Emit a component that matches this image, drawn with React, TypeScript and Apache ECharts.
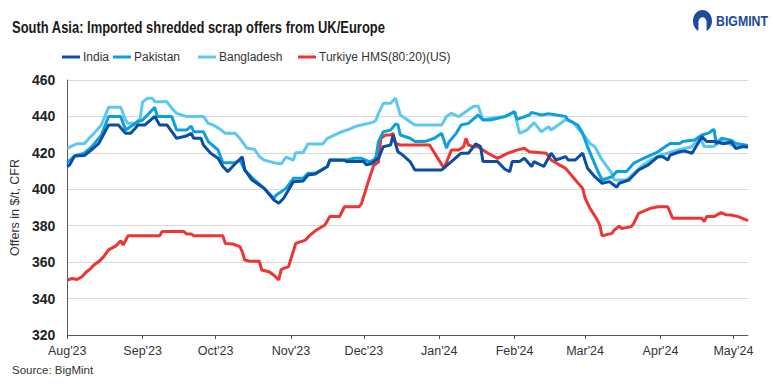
import React, { useEffect, useRef } from "react";
import * as echarts from "echarts";

type Pt = [string, number];

const legendNames = ["India", "Pakistan", "Bangladesh", "Turkiye HMS(80:20)(US)"];
const seriesColors = ["#0b4ea2", "#0ca0dc", "#5bc8f3", "#ee3532"];
const yTicks = [320, 340, 360, 380, 400, 420, 440, 460];
const monthNames = ["Jan", "Feb", "Mar", "Apr", "May", "Jun", "Jul", "Aug", "Sep", "Oct", "Nov", "Dec"];
const startDate = "2023-08-01";
const endDate = "2024-05-07";

const india: Pt[] = [
  ["2023-08-01", 412.5], ["2023-08-02", 413.4], ["2023-08-04", 418.3], ["2023-08-08", 418.5], ["2023-08-10", 420.6],
  ["2023-08-14", 425.2], ["2023-08-18", 435.3], ["2023-08-22", 435.3], ["2023-08-25", 430.7], ["2023-08-27", 430.7],
  ["2023-08-29", 433.5], ["2023-08-30", 435.3], ["2023-09-02", 435.3], ["2023-09-06", 440], ["2023-09-08", 435.3],
  ["2023-09-11", 435.3], ["2023-09-15", 428], ["2023-09-19", 429.3], ["2023-09-21", 430.7], ["2023-09-22", 428],
  ["2023-09-25", 428], ["2023-09-26", 424.3], ["2023-09-29", 419.8], ["2023-10-02", 417], ["2023-10-04", 412.5],
  ["2023-10-06", 409.7], ["2023-10-08", 412.5], ["2023-10-12", 417.9], ["2023-10-13", 410.6], ["2023-10-16", 405.1],
  ["2023-10-21", 400.5], ["2023-10-25", 394.1], ["2023-10-27", 392.3], ["2023-10-29", 395.1], ["2023-11-02", 404.2],
  ["2023-11-06", 404.5], ["2023-11-08", 407.8], ["2023-11-11", 408.4], ["2023-11-16", 412.5], ["2023-11-17", 416.1],
  ["2023-11-23", 416], ["2023-11-24", 415.2], ["2023-12-01", 415.2], ["2023-12-02", 413.4], ["2023-12-04", 414],
  ["2023-12-07", 417], ["2023-12-09", 423.4], ["2023-12-12", 424.3], ["2023-12-13", 429.8], ["2023-12-15", 420.6],
  ["2023-12-17", 418.8], ["2023-12-20", 415.2], ["2023-12-22", 410.6], ["2024-01-02", 410.6], ["2024-01-06", 415.2],
  ["2024-01-10", 419.8], ["2024-01-13", 419.8], ["2024-01-16", 424.9], ["2024-01-18", 423.4], ["2024-01-19", 415.2],
  ["2024-01-25", 415.2], ["2024-01-28", 411], ["2024-01-30", 409.7], ["2024-01-31", 415.2], ["2024-02-03", 415.2],
  ["2024-02-05", 417], ["2024-02-08", 412.5], ["2024-02-09", 415.2], ["2024-02-13", 412.5], ["2024-02-16", 419.8],
  ["2024-02-18", 416.1], ["2024-02-22", 417.9], ["2024-02-23", 416.1], ["2024-02-26", 416.1], ["2024-02-29", 419.8],
  ["2024-03-02", 411.5], ["2024-03-05", 406.9], ["2024-03-08", 403.3], ["2024-03-11", 404.2], ["2024-03-14", 401.1],
  ["2024-03-15", 403.3], ["2024-03-19", 405.1], ["2024-03-23", 410.6], ["2024-03-27", 413.4], ["2024-03-31", 417.9],
  ["2024-04-02", 417.9], ["2024-04-04", 416.1], ["2024-04-05", 418.8], ["2024-04-09", 420.6], ["2024-04-11", 421],
  ["2024-04-14", 419.8], ["2024-04-16", 424.3], ["2024-04-18", 428.9], ["2024-04-20", 426.2], ["2024-04-23", 426.2],
  ["2024-04-27", 425], ["2024-04-30", 426], ["2024-05-02", 422.4], ["2024-05-05", 423.5], ["2024-05-07", 423],
];

const pakistan: Pt[] = [
  ["2023-08-01", 414.6], ["2023-08-04", 418.3], ["2023-08-08", 419.8], ["2023-08-11", 423.3], ["2023-08-15", 429.7],
  ["2023-08-18", 440], ["2023-08-23", 440], ["2023-08-25", 432.5], ["2023-08-30", 437.1], ["2023-09-01", 438],
  ["2023-09-06", 445], ["2023-09-07", 440], ["2023-09-13", 440], ["2023-09-14", 436.2], ["2023-09-15", 432.5],
  ["2023-09-19", 432.5], ["2023-09-21", 434.7], ["2023-09-22", 431.6], ["2023-09-26", 431.6], ["2023-09-28", 426.2],
  ["2023-10-02", 421.6], ["2023-10-04", 414.6], ["2023-10-09", 414.6], ["2023-10-11", 416.1], ["2023-10-13", 410.6],
  ["2023-10-17", 405.1], ["2023-10-21", 400.5], ["2023-10-25", 395.1], ["2023-10-26", 396.9], ["2023-10-30", 400.5],
  ["2023-11-02", 406], ["2023-11-06", 406], ["2023-11-08", 408.8], ["2023-11-11", 408.8], ["2023-11-16", 412.5],
  ["2023-11-17", 416.1], ["2023-11-24", 416.1], ["2023-11-27", 417], ["2023-11-30", 417], ["2023-12-03", 415.2],
  ["2023-12-05", 416], ["2023-12-06", 417.9], ["2023-12-07", 426.2], ["2023-12-09", 431.6], ["2023-12-12", 432.5],
  ["2023-12-14", 435.8], ["2023-12-15", 435.5], ["2023-12-16", 429.8], ["2023-12-20", 428], ["2023-12-22", 426.2],
  ["2023-12-26", 426.2], ["2023-12-30", 428], ["2024-01-02", 430.7], ["2024-01-04", 422.5], ["2024-01-05", 426],
  ["2024-01-08", 430.7], ["2024-01-10", 435.3], ["2024-01-13", 436.2], ["2024-01-17", 440.8], ["2024-01-19", 438],
  ["2024-01-22", 438], ["2024-01-28", 439.9], ["2024-02-01", 442.6], ["2024-02-02", 438.4], ["2024-02-07", 440.8],
  ["2024-02-08", 442.2], ["2024-02-12", 440.8], ["2024-02-15", 441.5], ["2024-02-22", 440], ["2024-02-23", 438],
  ["2024-02-27", 435.3], ["2024-02-29", 430.7], ["2024-03-02", 423.4], ["2024-03-06", 410.6], ["2024-03-08", 405.1],
  ["2024-03-12", 406.9], ["2024-03-14", 409.7], ["2024-03-18", 409.7], ["2024-03-21", 414.3], ["2024-03-25", 417],
  ["2024-03-31", 420.6], ["2024-04-02", 422.5], ["2024-04-05", 425.2], ["2024-04-09", 425.2], ["2024-04-10", 426.2],
  ["2024-04-15", 427.1], ["2024-04-18", 429.8], ["2024-04-21", 431], ["2024-04-23", 433], ["2024-04-24", 424.5],
  ["2024-04-26", 428], ["2024-04-30", 427], ["2024-05-02", 425.2], ["2024-05-07", 424],
];

const bangladesh: Pt[] = [
  ["2023-08-01", 422.4], ["2023-08-03", 423.8], ["2023-08-05", 425], ["2023-08-08", 425], ["2023-08-10", 428],
  ["2023-08-12", 430.7], ["2023-08-15", 435.3], ["2023-08-18", 445], ["2023-08-23", 445], ["2023-08-25", 438],
  ["2023-08-26", 436.2], ["2023-08-29", 436.2], ["2023-08-31", 439], ["2023-09-01", 448], ["2023-09-03", 450],
  ["2023-09-05", 450], ["2023-09-06", 448], ["2023-09-11", 448], ["2023-09-13", 444.4], ["2023-09-15", 441.7],
  ["2023-09-19", 440], ["2023-09-26", 440], ["2023-09-28", 436.2], ["2023-09-30", 435.3], ["2023-10-03", 432.9],
  ["2023-10-05", 430.7], ["2023-10-09", 430.7], ["2023-10-11", 428], ["2023-10-14", 422.5], ["2023-10-17", 422],
  ["2023-10-19", 418], ["2023-10-21", 416], ["2023-10-26", 414.3], ["2023-10-28", 414], ["2023-10-30", 417.6],
  ["2023-11-02", 416], ["2023-11-03", 420.1], ["2023-11-06", 420.1], ["2023-11-08", 424.9], ["2023-11-14", 424.9],
  ["2023-11-16", 428], ["2023-11-22", 431.6], ["2023-11-24", 432.5], ["2023-11-28", 434.7], ["2023-12-03", 436.2],
  ["2023-12-05", 437], ["2023-12-06", 438], ["2023-12-07", 441.7], ["2023-12-09", 447.2], ["2023-12-12", 447.2],
  ["2023-12-14", 450], ["2023-12-15", 445.4], ["2023-12-16", 440.8], ["2023-12-20", 437.1], ["2023-12-22", 435.3],
  ["2024-01-02", 435.3], ["2024-01-04", 439.9], ["2024-01-06", 441.7], ["2024-01-09", 439.9], ["2024-01-11", 441.7],
  ["2024-01-15", 445.4], ["2024-01-17", 445.8], ["2024-01-19", 438], ["2024-01-22", 439], ["2024-01-28", 439.9],
  ["2024-01-31", 441.7], ["2024-02-01", 442.6], ["2024-02-03", 430.7], ["2024-02-06", 432.5], ["2024-02-09", 436.6],
  ["2024-02-12", 431.6], ["2024-02-15", 434.4], ["2024-02-16", 432.5], ["2024-02-20", 436.2], ["2024-02-22", 438.4],
  ["2024-02-25", 437], ["2024-02-27", 433.5], ["2024-03-01", 428.9], ["2024-03-03", 425.2], ["2024-03-05", 423.4],
  ["2024-03-08", 416.1], ["2024-03-12", 408.8], ["2024-03-13", 405.1], ["2024-03-18", 405.1], ["2024-03-21", 408.8],
  ["2024-03-24", 412.5], ["2024-03-28", 416.1], ["2024-04-01", 418.8], ["2024-04-04", 419.8], ["2024-04-08", 421.6],
  ["2024-04-11", 422.5], ["2024-04-14", 423.4], ["2024-04-16", 427], ["2024-04-17", 429], ["2024-04-19", 423.5],
  ["2024-04-23", 423.5], ["2024-04-25", 427], ["2024-04-27", 426], ["2024-04-30", 424.5], ["2024-05-03", 423.5],
  ["2024-05-07", 424],
];

const turkiye: Pt[] = [
  ["2023-08-01", 350.2], ["2023-08-03", 351], ["2023-08-05", 350.5], ["2023-08-07", 352], ["2023-08-09", 354.8],
  ["2023-08-10", 355.7], ["2023-08-12", 358.4], ["2023-08-14", 360.3], ["2023-08-16", 363], ["2023-08-18", 366.7],
  ["2023-08-21", 368.9], ["2023-08-23", 371.8], ["2023-08-24", 369.4], ["2023-08-26", 374.5], ["2023-09-08", 374.5],
  ["2023-09-09", 376.8], ["2023-09-18", 376.8], ["2023-09-19", 375.5], ["2023-09-21", 375.5], ["2023-09-22", 374.5],
  ["2023-10-04", 374.5], ["2023-10-05", 370.3], ["2023-10-08", 370], ["2023-10-11", 368.5], ["2023-10-12", 365.7],
  ["2023-10-13", 361.2], ["2023-10-15", 360.5], ["2023-10-19", 360.5], ["2023-10-20", 355.7], ["2023-10-23", 354.7],
  ["2023-10-25", 352.8], ["2023-10-27", 350.2], ["2023-10-28", 356], ["2023-10-31", 357.5], ["2023-11-03", 370.3],
  ["2023-11-07", 372.1], ["2023-11-09", 375], ["2023-11-11", 377.2], ["2023-11-15", 380.4], ["2023-11-17", 385],
  ["2023-11-21", 385], ["2023-11-23", 390.4], ["2023-11-29", 390.4], ["2023-11-30", 392], ["2023-12-03", 405],
  ["2023-12-05", 413], ["2023-12-07", 415], ["2023-12-08", 428], ["2023-12-10", 429.8], ["2023-12-12", 429.8],
  ["2023-12-13", 430.7], ["2023-12-14", 425.2], ["2023-12-16", 424.3], ["2023-12-28", 424.3], ["2024-01-03", 411.5],
  ["2024-01-06", 421.6], ["2024-01-09", 421.6], ["2024-01-11", 423.3], ["2024-01-12", 428], ["2024-01-13", 424.3],
  ["2024-01-15", 423.4], ["2024-01-17", 423.4], ["2024-01-21", 419.8], ["2024-01-25", 417], ["2024-01-29", 419.7],
  ["2024-02-02", 421.5], ["2024-02-05", 422.5], ["2024-02-07", 420.6], ["2024-02-14", 419.8], ["2024-02-16", 416.1],
  ["2024-02-19", 413.7], ["2024-02-22", 411.5], ["2024-02-26", 405.1], ["2024-02-29", 400.5], ["2024-03-01", 395.1],
  ["2024-03-03", 389.6], ["2024-03-06", 383.2], ["2024-03-07", 380.4], ["2024-03-08", 374.4], ["2024-03-12", 375.8],
  ["2024-03-13", 377.6], ["2024-03-15", 379.8], ["2024-03-16", 378.5], ["2024-03-20", 379.5], ["2024-03-21", 381.3],
  ["2024-03-23", 386.8], ["2024-03-28", 389.6], ["2024-03-31", 390.4], ["2024-04-04", 390.4], ["2024-04-06", 384.1],
  ["2024-04-18", 384.1], ["2024-04-19", 382.2], ["2024-04-20", 385], ["2024-04-23", 385], ["2024-04-26", 387.2],
  ["2024-04-28", 386], ["2024-04-30", 385.9], ["2024-05-03", 385], ["2024-05-07", 382.8],
];

const allSeries = [india, pakistan, bangladesh, turkiye];

function buildDays(): string[] {
  const out: string[] = [];
  const s = new Date(startDate + "T00:00:00Z").getTime();
  const e = new Date(endDate + "T00:00:00Z").getTime();
  for (let t = s; t <= e; t += 86400000) {
    out.push(new Date(t).toISOString().slice(0, 10));
  }
  return out;
}

const FONT = "'Liberation Sans', Arial, sans-serif";

export default function App() {
  const ref = useRef<HTMLDivElement>(null);
  useEffect(() => {
    if (!ref.current) return;
    const chart = echarts.init(ref.current, undefined, { renderer: "svg" });
    const days = buildDays();
    const idx: Record<string, number> = {};
    days.forEach((d, i) => (idx[d] = i));
    const isMonthStart = (_i: number, v: string) => v.slice(8, 10) === "01";
    const logoD = "M10 0C4.5 0 0 4.5 0 10c0 4 2.3 7.4 5.7 9V11c0-2.4 1.9-4.3 4.3-4.3s4.3 1.9 4.3 4.3v8c3.4-1.6 5.7-5 5.7-9C20 4.5 15.5 0 10 0z";
    echarts.graphic.registerShape("bmlogo", echarts.graphic.extendPath(logoD as any, {}) as any);

    const legendLefts = [62, 113, 198, 298];

    chart.setOption({
      animation: false,
      backgroundColor: "#ffffff",
      textStyle: { fontFamily: FONT },
      grid: { left: 62, right: 25, top: 80, bottom: 49 },
      legend: legendNames.map((n, i) => ({
        data: [n],
        left: legendLefts[i],
        top: 51,
        icon: "rect",
        itemWidth: 18,
        itemHeight: 3,
        padding: 0,
        textStyle: { fontSize: 12, color: "#333333", fontFamily: FONT, padding: [0, 0, 0, -2] },
      })),
      xAxis: {
        type: "category",
        data: days,
        boundaryGap: false,
        axisLine: { lineStyle: { color: "#595959", width: 1 } },
        axisTick: { show: true, interval: isMonthStart, length: 4, lineStyle: { color: "#595959" } },
        axisLabel: {
          interval: isMonthStart,
          fontSize: 12.5,
          color: "#333333",
          margin: 9,
          formatter: (v: string) => monthNames[parseInt(v.slice(5, 7), 10) - 1] + "'" + v.slice(2, 4),
        },
        splitLine: { show: false },
      },
      yAxis: {
        type: "value",
        min: yTicks[0],
        max: yTicks[yTicks.length - 1],
        interval: 20,
        name: "Offers in $/t, CFR",
        nameLocation: "middle",
        nameGap: 41,
        nameRotate: 90,
        nameTextStyle: { fontSize: 12.5, color: "#333333" },
        axisLine: { show: true, lineStyle: { color: "#595959", width: 1 } },
        axisTick: { show: false },
        axisLabel: { fontSize: 14, fontWeight: "bold", color: "#222222", margin: 12 },
        splitLine: { lineStyle: { color: "#d9d9d9", width: 1 } },
      },
      series: allSeries.map((s, i) => ({
        name: legendNames[i],
        type: "line",
        data: s.map(([d, v]) => [idx[d], v]),
        showSymbol: false,
        symbol: "none",
        color: seriesColors[i],
        lineStyle: { width: 3, color: seriesColors[i] },
        z: i === 3 ? 1 : 4 - i,
      })),
      graphic: [
        {
          type: "group",
          x: 12,
          y: 19,
          scaleX: 0.785,
          children: [
            {
              type: "text",
              x: 0,
              y: 0,
              style: { text: "South Asia: Imported shredded scrap offers from UK/Europe", font: "bold 16.5px " + FONT, fill: "#1a1a1a" },
            },
          ],
        },
        {
          type: "text",
          left: 12,
          top: 364,
          style: { text: "Source: BigMint", font: "11.5px " + FONT, fill: "#333333" },
        },
        {
          type: "bmlogo",
          x: 693,
          y: 10,
          scaleX: 0.95,
          scaleY: 1.1,
          style: { fill: "#1d4a9a" },
        },
        {
          type: "circle",
          shape: { cx: 702.5, cy: 21, r: 2.2 },
          style: { fill: "#ffffff" },
        },
        {
          type: "group",
          x: 716,
          y: 14,
          scaleX: 0.85,
          children: [
            {
              type: "text",
              x: 0,
              y: 0,
              style: { text: "BIGMINT", font: "bold 14.5px " + FONT, fill: "#1d4a9a" },
            },
          ],
        },
      ],
    });
    return () => chart.dispose();
  }, []);
  return <div ref={ref} style={{ position: "fixed", left: 0, top: 0, width: 773, height: 384 }} />;
}
